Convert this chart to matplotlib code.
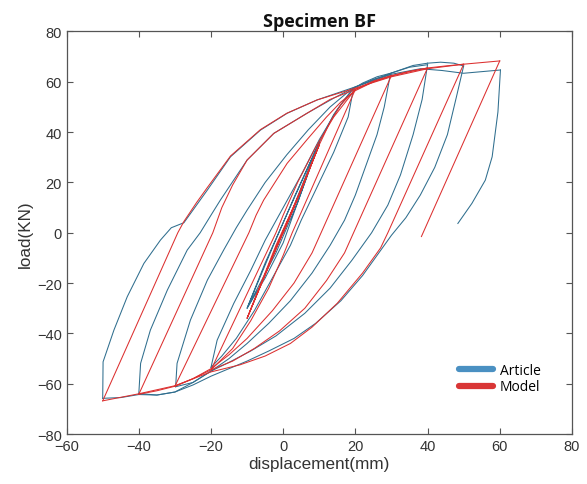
import matplotlib
matplotlib.use("Agg")
import matplotlib.pyplot as plt
from matplotlib.lines import Line2D

# ---------------- Article (experimental) branches ----------------
art_c10_x = [0, 5, 10, 5, 0, -5, -10, -5, 0, 5, 10, 4, -2, -10, -3, 3, 10]
art_c10_y = [0, 18, 36, 16, -4, -18, -30, -12, 4, 20, 36, 12, -8, -30, -6, 14, 36]
art_up20_x = [10, 14, 17, 19.5]
art_up20_y = [36, 47, 53, 57.5]
art_dn20_x = [19.5, 18, 14, 9, 5, 2, -3, -8, -13, -17, -20]
art_dn20_y = [57.5, 46, 32, 17, 5, -5, -18, -31, -42, -49, -53.5]
art_re20_x = [-20, -18.3, -13.7, -9, -5, 0, 5, 10, 15, 19.5]
art_re20_y = [-53.5, -42.7, -28.1, -15, -3, 10, 23, 37, 49, 57.5]
art_up30_x = [19.5, 25, 29.7]
art_up30_y = [57.5, 61, 63]
art_dn30_x = [29.7, 28, 26, 23, 20, 17, 13, 8, 2, -4, -10, -15, -20, -25, -29.8]
art_dn30_y = [63, 50, 39, 27, 15, 5, -5, -16, -27, -36, -44, -50, -55, -59.5, -61.2]
art_re30_x = [-29.8, -29.4, -25.7, -21, -16.5, -13, -10, -5, 1, 7, 13, 18, 22, 26, 30]
art_re30_y = [-61.2, -51.9, -34.7, -18.8, -6.9, 2, 9, 20, 31, 41, 50, 56, 59.5, 62, 63.5]
art_up40_x = [30, 35, 40]
art_up40_y = [63.5, 65.8, 66.8]
art_dn40_x = [40, 38.5, 36, 32.5, 29, 24.5, 19, 13, 6, -2, -9, -15, -20, -25, -30, -35, -40]
art_dn40_y = [66.8, 53, 39, 23, 11, 0, -11, -22, -32, -41, -47, -51.5, -55, -59.5, -63.3, -64.5, -63.9]
art_re40_x = [-40, -39.5, -36.8, -32.1, -26.6, -23, -20, -17.4, -10, -2.6, 6.6, 14, 20, 30, 36, 40]
art_re40_y = [-63.9, -51.9, -38.7, -22.8, -6.9, 0, 7, 13, 28.9, 39.5, 47.5, 53.5, 58, 63.5, 66.5, 67.4]
art_up50_x = [40, 43.6, 47.3, 50]
art_up50_y = [67.4, 67.8, 67.4, 66.3]
art_dn50_x = [50, 48, 45.5, 42, 38, 34, 30, 26, 22, 16, 9, 3, -4, -10, -20, -25, -30, -35, -40, -45, -50]
art_dn50_y = [66.3, 54, 39, 26, 15, 6, -1, -9, -17, -27, -36, -42, -47, -51, -57, -60.5, -63.3, -64.5, -64.3, -65.5, -65.8]
art_re50_x = [-50, -49.9, -46.9, -43.2, -38.6, -34, -31, -27.5, -24, -21, -14.6, -6.3, 1.1, 9.4, 20, 30, 38, 44, 50, 60.2]
art_re50_y = [-65.8, -51.3, -38.7, -25.4, -12.2, -2.9, 2, 4, 11, 17, 30.2, 40.8, 47.5, 52.8, 58, 63, 65.2, 64.5, 63.4, 64.7]
art_dn60_x = [60.2, 59.5, 57.9, 56, 52.3, 48.4]
art_dn60_y = [64.7, 48, 30.2, 20.9, 11.7, 3.7]

# ---------------- Model branches ----------------
mod_c10_x = [0, 5, 10, 4, -2, -10, -4, 2, 10, 3, -3, -10, -2, 5, 10]
mod_c10_y = [0, 17, 35, 14, -6, -34, -13, 7, 35, 10, -10, -34, -5, 17, 35]
mod_up20_x = [10, 13, 16, 20]
mod_up20_y = [35, 44, 51, 57]
mod_dn20_x = [20, 2.5, 0, -4, -9, -14, -20]
mod_dn20_y = [57, 0, -9, -22, -35, -46, -54.5]
mod_re20_x = [-20, -2, 0, 4, 9, 14, 20]
mod_re20_y = [-54.5, 0, 7, 20, 34, 46, 57]
mod_up30_x = [20, 25, 30]
mod_up30_y = [57, 60.3, 62.5]
mod_dn30_x = [30, 10.5, 8, 3, -3, -10, -15, -20, -25, -30]
mod_dn30_y = [62.5, 0, -8, -20, -31, -42, -48.5, -54, -58, -61]
mod_re30_x = [-30, -9.5, -7.5, -5.4, 1.1, 6.6, 12, 16, 20, 25, 30]
mod_re30_y = [-61, 0, 7, 13, 27.6, 37, 46, 52, 56.5, 60, 62.5]
mod_up40_x = [30, 35, 40]
mod_up40_y = [62.5, 64.2, 65.5]
mod_dn40_x = [40, 19.5, 17, 12, 6, -1, -8, -14, -20, -25, -30, -35, -40]
mod_dn40_y = [65.5, 0, -8, -19, -30, -39, -46, -51, -54.5, -58, -61, -62.8, -64.2]
mod_re40_x = [-40, -19.5, -17, -14, -10, -2.6, 6.6, 13, 20, 25, 30, 35, 40]
mod_re40_y = [-64.2, 0, 10, 19, 28.9, 39.5, 47.5, 53, 57, 60, 62.3, 64, 65.5]
mod_up50_x = [40, 45, 50]
mod_up50_y = [65.5, 66.3, 67]
mod_dn50_x = [50, 29, 27, 22, 15, 8, 2, -5, -12, -20, -30, -40, -50]
mod_dn50_y = [67, 0, -6, -16, -28, -37.5, -44, -49, -52.5, -55.3, -60.8, -64, -66.8]
mod_re50_x = [-50, -29.2, -27.5, -24, -21, -14.6, -6.3, 1, 9.4, 20, 30, 40, 50, 60]
mod_re50_y = [-66.8, 0, 4.5, 12, 18, 30.5, 41, 47.5, 52.8, 57.5, 62, 65.2, 67, 68.3]
mod_dn60_x = [60, 38.3]
mod_dn60_y = [68.3, -1.5]

article_branches = [
    (art_c10_x, art_c10_y), (art_up20_x, art_up20_y), (art_dn20_x, art_dn20_y),
    (art_re20_x, art_re20_y), (art_up30_x, art_up30_y), (art_dn30_x, art_dn30_y),
    (art_re30_x, art_re30_y), (art_up40_x, art_up40_y), (art_dn40_x, art_dn40_y),
    (art_re40_x, art_re40_y), (art_up50_x, art_up50_y), (art_dn50_x, art_dn50_y),
    (art_re50_x, art_re50_y), (art_dn60_x, art_dn60_y),
]
model_branches = [
    (mod_c10_x, mod_c10_y), (mod_up20_x, mod_up20_y), (mod_dn20_x, mod_dn20_y),
    (mod_re20_x, mod_re20_y), (mod_up30_x, mod_up30_y), (mod_dn30_x, mod_dn30_y),
    (mod_re30_x, mod_re30_y), (mod_up40_x, mod_up40_y), (mod_dn40_x, mod_dn40_y),
    (mod_re40_x, mod_re40_y), (mod_up50_x, mod_up50_y), (mod_dn50_x, mod_dn50_y),
    (mod_re50_x, mod_re50_y), (mod_dn60_x, mod_dn60_y),
]

x_ticks = [-60, -40, -20, 0, 20, 40, 60, 80]
y_ticks = [-80, -60, -40, -20, 0, 20, 40, 60, 80]

art_line = "#2f6e8e"
mod_line = "#dc2f2f"
art_leg = "#4a90c2"
mod_leg = "#d93636"

fig = plt.figure(figsize=(5.87, 4.85), dpi=100)
ax = fig.add_axes([0.1135, 0.103, 0.8608, 0.830])

for bx, by in article_branches:
    ax.plot(bx, by, color=art_line, lw=0.75, solid_joinstyle="round")
for bx, by in model_branches:
    ax.plot(bx, by, color=mod_line, lw=0.75, solid_joinstyle="round")

ax.set_xlim(-60, 80)
ax.set_ylim(-80, 80)
ax.set_xticks(x_ticks)
ax.set_yticks(y_ticks)
ax.tick_params(direction="in", top=True, right=True, length=4, width=0.8,
               colors="#555555", labelcolor="#333333", labelsize=10.5)
for lab in ax.get_xticklabels() + ax.get_yticklabels():
    lab.set_family("Liberation Sans")
for s in ax.spines.values():
    s.set_color("#555555")
    s.set_linewidth(0.9)

ax.set_xlabel("displacement(mm)", family="Liberation Sans", fontsize=12.3,
              color="#333333", labelpad=2)
ax.set_ylabel("load(KN)", family="Liberation Sans", fontsize=12.3,
              color="#333333", labelpad=3)
ax.set_title("Specimen BF", family="Open Sans", fontweight="bold", fontsize=13,
             color="#111111", pad=4)

handles = [Line2D([0], [0], color=art_leg, lw=4.5, solid_capstyle="round"),
           Line2D([0], [0], color=mod_leg, lw=4.5, solid_capstyle="round")]
ax.legend(handles, ["Article", "Model"], loc="upper left",
          bbox_to_anchor=(0.777, 0.177), frameon=False, borderpad=0,
          borderaxespad=0, handlelength=2.4, handletextpad=0.5,
          labelspacing=0.12, prop={"family": "Open Sans", "size": 10})

fig.savefig("out.png", dpi=100)
